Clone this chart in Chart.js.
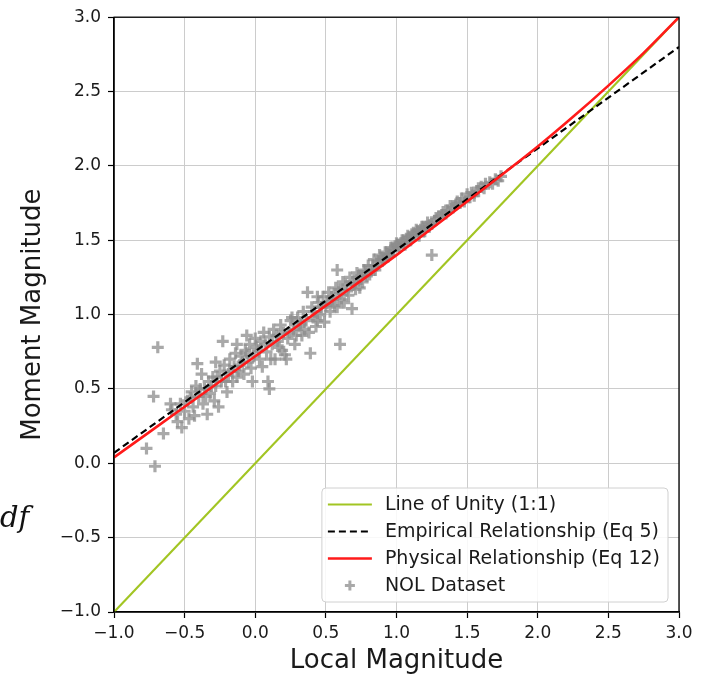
<!DOCTYPE html>
<html><head><meta charset="utf-8">
<script src="https://cdn.jsdelivr.net/npm/chart.js@4/dist/chart.umd.min.js"></script>
<style>
html,body{margin:0;padding:0;background:#fff;}
#wrap{position:relative;width:706px;height:677px;}
</style></head><body>
<div id="wrap"><canvas id="c" width="706" height="677"></canvas></div>
<script>
// ---- data ----
const tickValues = [-1.0, -0.5, 0.0, 0.5, 1.0, 1.5, 2.0, 2.5, 3.0];
const unityX = [-1, 3];
const unityY = [-1, 3];
const empX = [-1, 3];
const empY = [0.07, 2.80];
const physX = [-1, -0.5, 0, 0.5, 1, 1.5, 2, 2.25, 2.5, 2.75, 3];
const physY = [0.04, 0.38, 0.72, 1.06, 1.40, 1.76, 2.13, 2.33, 2.54, 2.76, 3.0];
const nolX = [-0.77,-0.71,-0.72,-0.69,-0.65,-0.60,-0.59,-0.55,-0.52,-0.50,-0.48,-0.47,-0.45,-0.44,-0.42,-0.41,-0.40,-0.38,-0.37,-0.36,
  -0.34,-0.33,-0.32,-0.30,-0.28,-0.26,-0.25,-0.24,-0.23,-0.22,-0.20,-0.19,-0.18,-0.16,-0.15,-0.14,-0.13,-0.12,-0.11,-0.10,
  -0.08,-0.07,-0.05,-0.04,-0.02,-0.01,0.00,0.01,0.03,0.04,0.05,0.06,0.08,0.09,0.10,0.12,0.13,0.14,0.15,0.17,
  0.18,0.20,0.21,0.22,0.23,0.25,0.27,0.28,0.30,0.31,0.33,0.34,0.36,0.37,0.38,0.39,0.40,0.41,0.43,0.45,
  0.46,0.48,0.49,0.50,0.52,0.53,0.55,0.57,0.58,0.58,0.60,0.60,0.62,0.63,0.65,0.67,0.685,0.70,0.72,0.74,
  0.75,0.77,0.79,0.80,0.82,0.84,0.86,0.88,0.90,0.92,0.94,0.96,0.98,1.00,1.02,1.04,1.06,1.08,1.10,1.12,
  1.14,1.16,1.18,1.20,1.22,1.25,1.25,1.28,1.30,1.33,1.36,1.38,1.40,1.43,1.46,1.48,1.50,1.53,1.55,1.58,
  1.60,1.63,1.66,1.70,1.74,-0.28,-0.06,0.10,0.26,0.44,
  -0.56,-0.53,-0.46,-0.43,-0.39,-0.35,-0.31,-0.29,-0.27,-0.21,-0.17,-0.13,-0.09,-0.06,-0.03,0.02,0.07,0.11,0.16,0.19,
  0.24,0.29,0.32,0.35,0.42,0.44,0.47,0.51,0.54,0.56,0.59,0.61,0.64,0.66,0.69,0.71,0.73,0.76,0.78,0.81,
  0.83,0.85,0.87,0.89,0.91,0.93,0.95,0.97,0.99,1.01,1.03,1.05,1.07,1.09,1.11,1.13,1.15,1.17,1.19,1.21,
  1.23,1.27,1.32,1.35,1.42,1.45,1.52,1.57,1.62,1.68,1.72];
const nolY = [0.10,-0.02,0.45,0.78,0.20,0.40,0.36,0.28,0.24,0.35,0.42,0.30,0.48,0.38,0.52,0.67,0.45,0.60,0.40,0.50,
  0.33,0.55,0.47,0.58,0.52,0.38,0.62,0.55,0.82,0.66,0.48,0.60,0.70,0.55,0.65,0.74,0.80,0.62,0.66,0.72,
  0.60,0.76,0.68,0.80,0.55,0.72,0.84,0.78,0.70,0.82,0.65,0.88,0.75,0.55,0.85,0.80,0.90,0.70,0.86,0.78,
  0.93,0.88,0.73,0.70,0.84,0.96,0.90,0.80,0.98,0.92,0.86,1.02,0.96,1.15,0.88,0.74,1.05,0.98,0.92,1.08,
  1.00,1.12,0.95,1.06,1.15,1.02,1.10,1.18,1.05,1.30,0.80,1.14,1.22,1.08,1.16,1.25,1.04,1.20,1.28,1.18,
  1.24,1.30,1.26,1.33,1.30,1.37,1.33,1.40,1.36,1.42,1.39,1.45,1.43,1.48,1.45,1.50,1.47,1.53,1.50,1.55,
  1.57,1.53,1.59,1.56,1.62,1.40,1.61,1.65,1.66,1.69,1.70,1.73,1.72,1.76,1.78,1.76,1.81,1.82,1.80,1.85,
  1.86,1.88,1.89,1.91,1.93,0.68,0.86,0.50,0.98,1.12,
  0.33,0.40,0.44,0.32,0.50,0.45,0.52,0.42,0.58,0.55,0.62,0.58,0.68,0.74,0.64,0.76,0.80,0.70,0.82,0.76,
  0.88,0.86,0.94,0.90,1.02,0.96,1.05,1.08,1.12,1.06,1.17,1.10,1.20,1.13,1.22,1.17,1.26,1.22,1.29,1.27,
  1.33,1.30,1.36,1.38,1.37,1.41,1.40,1.44,1.46,1.47,1.48,1.49,1.51,1.52,1.53,1.54,1.56,1.57,1.58,1.59,
  1.60,1.63,1.67,1.68,1.74,1.75,1.79,1.83,1.85,1.88,1.90];

const toPts = (xs, ys) => xs.map((x, i) => ({x: x, y: ys[i]}));
const fmt = v => (Math.round(v * 10) / 10).toFixed(1).replace('-', '\u2212');

const FONT = "'DejaVu Sans', sans-serif";
const TXT = '#1a1a1a';

const framePlugin = {
  id: 'frame',
  afterDatasetsDraw(chart) {
    const {ctx, chartArea: a} = chart;
    ctx.save();
    ctx.strokeStyle = '#000';
    ctx.lineWidth = 1.3;
    ctx.strokeRect(a.left, a.top, a.right - a.left, a.bottom - a.top);
    // legend
    const ds = chart.data.datasets;
    const order = [0, 1, 2, 3];
    ctx.font = "19px " + FONT;
    let maxW = 0;
    order.forEach(i => { maxW = Math.max(maxW, ctx.measureText(ds[i].label).width); });
    const rowH = 27, padX = 6, sampleW = 44, gap = 13;
    const bw = padX + sampleW + gap + maxW + 8;
    const bh = rowH * order.length + 6;
    const bx = a.right - 11 - bw, by = a.bottom - 10 - bh;
    ctx.beginPath();
    ctx.roundRect(bx, by, bw, bh, 4);
    ctx.fillStyle = 'rgba(255,255,255,0.85)';
    ctx.fill();
    ctx.strokeStyle = '#d0d0d0';
    ctx.lineWidth = 1;
    ctx.stroke();
    order.forEach((i, k) => {
      const d = ds[i];
      const cy = by + 3 + rowH * k + rowH / 2;
      const sx = bx + padX;
      if (d.type === 'scatter') {
        ctx.strokeStyle = d.borderColor;
        ctx.lineWidth = 3;
        ctx.beginPath();
        ctx.moveTo(sx + sampleW / 2 - 5, cy); ctx.lineTo(sx + sampleW / 2 + 5, cy);
        ctx.moveTo(sx + sampleW / 2, cy - 5); ctx.lineTo(sx + sampleW / 2, cy + 5);
        ctx.stroke();
      } else {
        ctx.strokeStyle = d.borderColor;
        ctx.lineWidth = d.borderWidth;
        ctx.setLineDash(d.borderDash || []);
        ctx.beginPath();
        ctx.moveTo(sx, cy); ctx.lineTo(sx + sampleW, cy);
        ctx.stroke();
        ctx.setLineDash([]);
      }
      ctx.fillStyle = TXT;
      ctx.textBaseline = 'middle';
      ctx.textAlign = 'left';
      ctx.fillText(d.label, sx + sampleW + gap, cy + 1);
    });
    // stray text at the left edge of the figure
    ctx.font = "italic 29px 'DejaVu Serif', serif";
    ctx.fillStyle = '#111';
    ctx.textBaseline = 'alphabetic';
    ctx.fillText('df', 0, 527);
    ctx.restore();
  }
};

const axisCommon = {
  type: 'linear',
  min: -1, max: 3,
  grid: { color: '#cccccc', lineWidth: 1, tickColor: '#000', tickLength: 6, tickWidth: 1.2 },
  border: { display: true, color: '#000', width: 1.3 },
  ticks: {
    stepSize: 0.5,
    color: TXT,
    font: { family: FONT, size: 17 },
    callback: v => fmt(v)
  }
};

new Chart(document.getElementById('c'), {
  data: {
    datasets: [
      { type: 'line', label: 'Line of Unity (1:1)', data: toPts(unityX, unityY), borderColor: '#a2c523', borderWidth: 2.2, pointRadius: 0, fill: false, order: 3 },
      { type: 'line', label: 'Empirical Relationship (Eq 5)', data: toPts(empX, empY), borderColor: '#000', borderWidth: 2.2, borderDash: [7, 4], pointRadius: 0, fill: false, order: 2 },
      { type: 'line', label: 'Physical Relationship (Eq 12)', data: toPts(physX, physY), borderColor: '#ff1a1a', borderWidth: 2.6, pointRadius: 0, fill: false, cubicInterpolationMode: 'monotone', order: 1 },
      { type: 'scatter', label: 'NOL Dataset', data: toPts(nolX, nolY), borderColor: 'rgba(140,140,140,0.75)', backgroundColor: 'rgba(140,140,140,0.75)', pointStyle: 'cross', pointRadius: 6, borderWidth: 3.2, order: 4 }
    ]
  },
  options: {
    responsive: false,
    animation: false,
    devicePixelRatio: 1,
    layout: { padding: { top: 13, right: 27, left: 0, bottom: 0 } },
    plugins: { legend: { display: false }, tooltip: { enabled: false } },
    scales: {
      x: Object.assign({}, axisCommon, {
        position: 'bottom',
        ticks: Object.assign({}, axisCommon.ticks, { padding: 5 }),
        title: { display: true, text: 'Local Magnitude', color: TXT, font: { family: FONT, size: 26 }, padding: { top: 0, bottom: 0 } },
        afterFit: s => { s.height = 65; }
      }),
      y: Object.assign({}, axisCommon, {
        position: 'left',
        ticks: Object.assign({}, axisCommon.ticks, { padding: 7 }),
        title: { display: true, text: 'Moment Magnitude', color: TXT, font: { family: FONT, size: 26 }, padding: { top: 18, bottom: 0 } },
        afterFit: s => { s.width = 114; }
      })
    }
  },
  plugins: [framePlugin]
});
</script>
</body></html>
